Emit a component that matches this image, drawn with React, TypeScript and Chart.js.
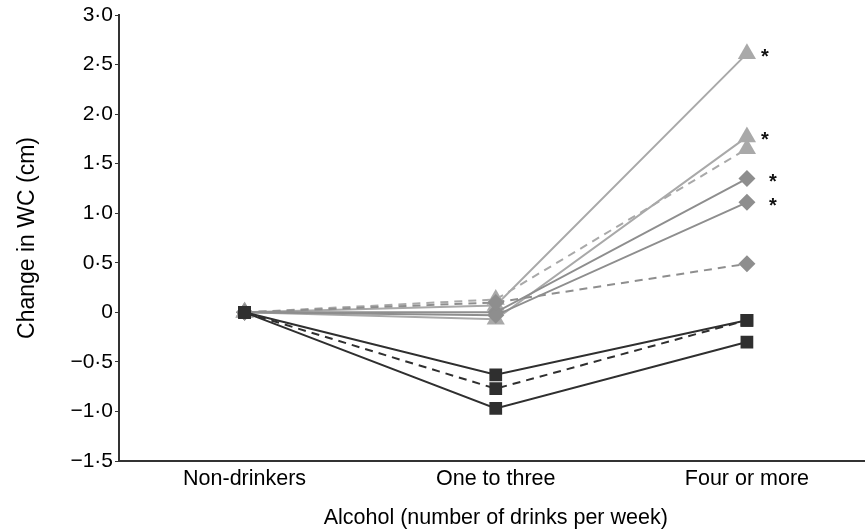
import React, { useEffect, useRef } from "react";
import { Chart, registerables } from "chart.js";

Chart.register(...registerables);

const categories = ["Non-drinkers", "One to three", "Four or more"];
const yTickLabels: Record<string, string> = {
  "3": "3·0", "2.5": "2·5", "2": "2·0", "1.5": "1·5", "1": "1·0",
  "0.5": "0·5", "0": "0", "-0.5": "−0·5", "-1": "−1·0", "-1.5": "−1·5",
};

// Triangles (light grey)
const triSolidA = [0, 0.07, 2.61];
const triSolidB = [0, -0.07, 1.77];
const triDashed = [0, 0.13, 1.65];
// Diamonds (mid grey)
const diaSolidA = [0, 0.0, 1.35];
const diaSolidB = [0, -0.03, 1.11];
const diaDashed = [0, 0.1, 0.49];
// Squares (dark)
const sqSolidA = [0, -0.63, -0.08];
const sqDashed = [0, -0.77, -0.08];
const sqSolidB = [0, -0.97, -0.3];

// significance markers on the "Four or more" points
const starSeries = [triSolidA, triSolidB, diaSolidA, diaSolidB];
const starOffsets = [14, 14, 22, 22];

const TRI = "#a9a9a9";
const DIA = "#8e8e8e";
const SQ = "#2f2f2f";

function ds(data: number[], color: string, style: string, dashed: boolean, radius: number) {
  return {
    data,
    borderColor: color,
    backgroundColor: color,
    borderWidth: 2,
    borderDash: dashed ? [8, 6] : [],
    pointStyle: style,
    pointRadius: radius,
    pointBorderWidth: 0,
    pointBackgroundColor: color,
    pointBorderColor: color,
    tension: 0,
  };
}

export default function App() {
  const ref = useRef<HTMLCanvasElement | null>(null);
  useEffect(() => {
    if (!ref.current) return;
    const starPlugin = {
      id: "stars",
      afterDatasetsDraw(chart: any) {
        const ctx = chart.ctx;
        const xs = chart.scales.x;
        const ys = chart.scales.y;
        ctx.save();
        ctx.fillStyle = "#111";
        ctx.font = "bold 20px 'Liberation Sans', Arial, sans-serif";
        ctx.textAlign = "left";
        ctx.textBaseline = "middle";
        starSeries.forEach((s, i) => {
          const x = xs.getPixelForValue(2) + starOffsets[i];
          const y = ys.getPixelForValue(s[2]) + 4;
          ctx.fillText("*", x, y);
        });
        ctx.restore();
      },
    };
    const family = "'Liberation Sans', Arial, sans-serif";
    const font = { family, size: 21.5 };
    const chart = new Chart(ref.current, {
      type: "line",
      data: {
        labels: categories,
        datasets: [
          ds(sqSolidA, SQ, "rect", false, 9),
          ds(sqDashed, SQ, "rect", true, 9),
          ds(sqSolidB, SQ, "rect", false, 9),
          ds(diaDashed, DIA, "rectRot", true, 8.5),
          ds(diaSolidB, DIA, "rectRot", false, 8.5),
          ds(diaSolidA, DIA, "rectRot", false, 8.5),
          ds(triDashed, TRI, "triangle", true, 10.5),
          ds(triSolidB, TRI, "triangle", false, 10.5),
          ds(triSolidA, TRI, "triangle", false, 10.5),
        ] as any,
      },
      options: {
        responsive: false,
        animation: false,
        layout: { padding: { top: 15, right: 0, left: 0, bottom: 0 } },
        plugins: { legend: { display: false }, tooltip: { enabled: false } },
        scales: {
          x: {
            type: "category",
            offset: true,
            grid: { display: true, drawOnChartArea: false, drawTicks: false, offset: true },
            border: { display: true, color: "#333", width: 2 },
            ticks: { color: "#000", font, padding: 5 },
            title: { display: true, text: "Alcohol (number of drinks per week)", color: "#000", font, padding: { top: 0, bottom: 0 } },
            afterFit: (s: any) => { s.height = 70; },
          },
          y: {
            type: "linear",
            min: -1.5,
            max: 3.0,
            grid: { display: true, drawOnChartArea: false, drawTicks: true, tickLength: 4, color: "#333" },
            border: { display: true, color: "#333", width: 2 },
            ticks: {
              stepSize: 0.5,
              color: "#000",
              font: { family, size: 21 },
              padding: 2,
              callback: (v: any) => yTickLabels[String(v)] ?? String(v),
            },
            title: { display: true, text: "Change in WC (cm)", color: "#000", font: { family, size: 23 }, padding: { top: 14, bottom: 0 } },
            afterFit: (s: any) => { s.width = 119; },
          },
        },
      } as any,
      plugins: [starPlugin],
    });
    return () => chart.destroy();
  }, []);
  return (
    <div style={{ position: "fixed", left: 0, top: 0, width: 865, height: 531, overflow: "hidden", background: "#fff" }}>
      <canvas ref={ref} width={883} height={531} style={{ display: "block" }} />
    </div>
  );
}
